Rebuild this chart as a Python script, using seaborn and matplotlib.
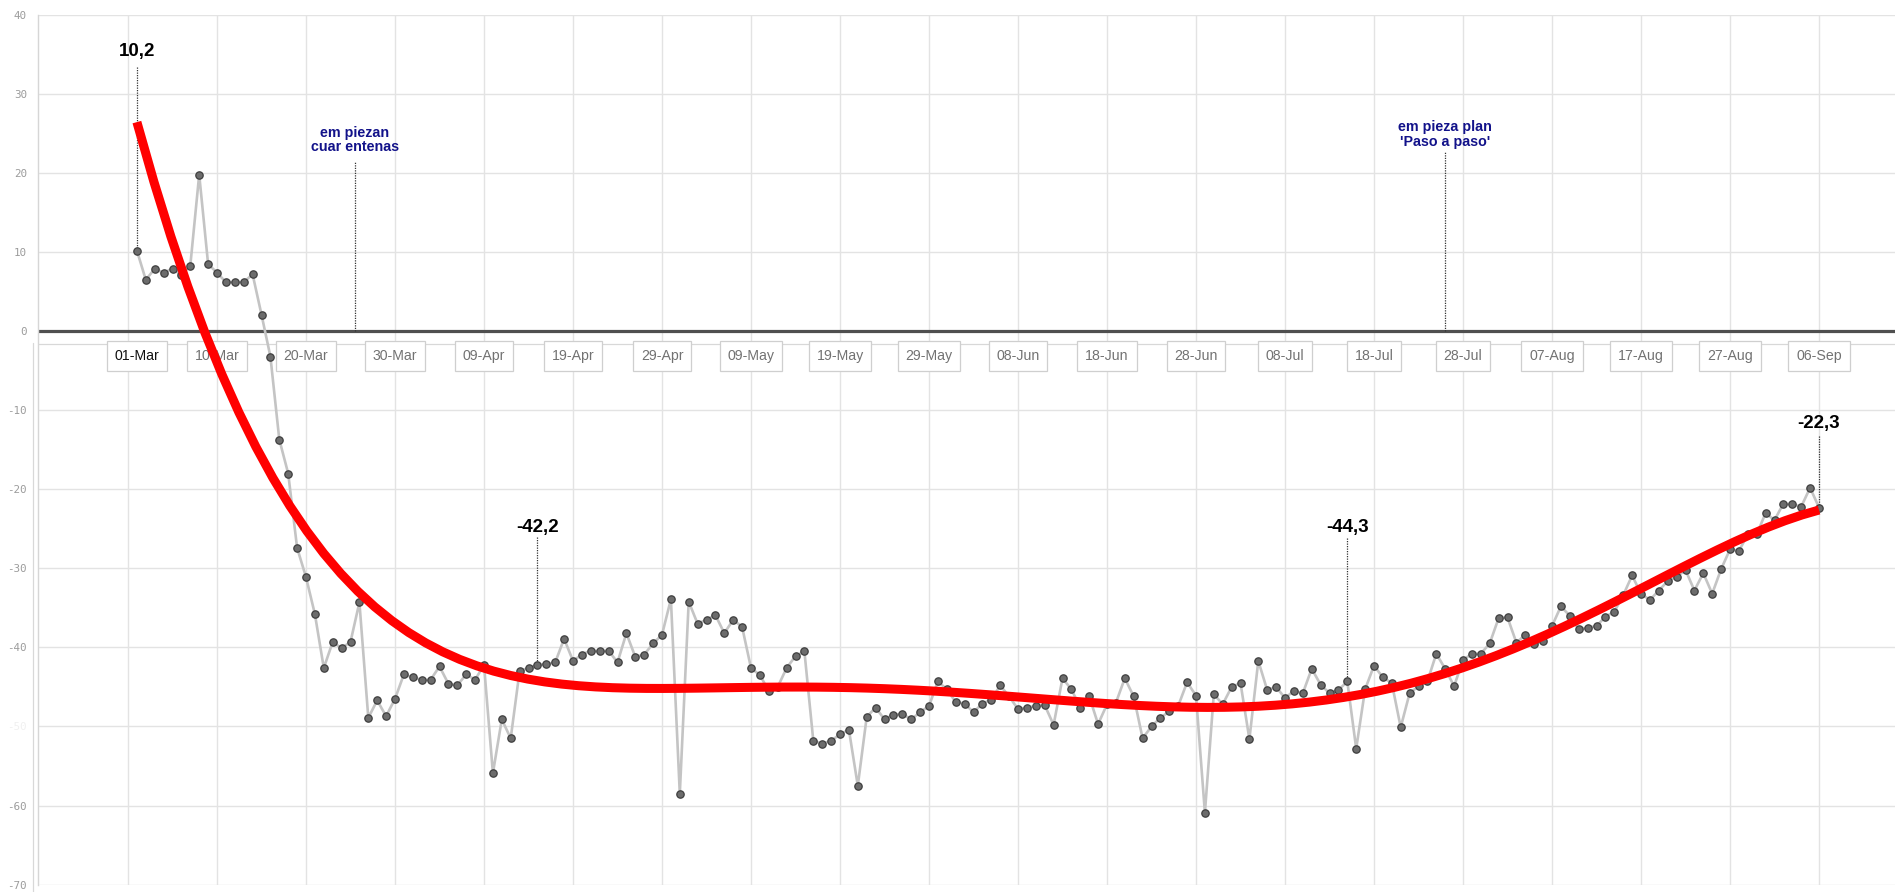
import numpy as np
import pandas as pd
import matplotlib
matplotlib.use("Agg")
import matplotlib.pyplot as plt
from matplotlib import font_manager
from matplotlib.lines import Line2D
import seaborn as sns

# Variación diaria (%) respecto a la línea base, desde el 01-Mar
valores = [
    10.2, 6.5, 7.9, 7.4, 7.9, 7.1, 8.3, 19.8, 8.5, 7.4,
    6.2, 6.2, 6.2, 7.2, 2.1, -3.2, -13.7, -18.0, -27.4, -31.1,
    -35.8, -42.6, -39.3, -40.1, -39.3, -34.3, -48.9, -46.7, -48.7, -46.5,
    -43.4, -43.8, -44.1, -44.1, -42.4, -44.6, -44.8, -43.4, -44.1, -42.2,
    -55.9, -49.1, -51.5, -43.0, -42.6, -42.2, -42.1, -41.9, -38.9, -41.7,
    -40.9, -40.4, -40.5, -40.4, -41.9, -38.2, -41.2, -40.9, -39.5, -38.4,
    -33.9, -58.5, -34.2, -37.0, -36.5, -35.9, -38.2, -36.5, -37.4, -42.6,
    -43.5, -45.5, -45.0, -42.6, -41.1, -40.5, -51.8, -52.2, -51.8, -51.0,
    -50.4, -57.5, -48.8, -47.6, -49.1, -48.5, -48.4, -49.1, -48.2, -47.4,
    -44.3, -45.3, -46.9, -47.1, -48.2, -47.1, -46.6, -44.8, -46.2, -47.8,
    -47.6, -47.4, -47.3, -49.8, -43.9, -45.3, -47.6, -46.2, -49.7, -47.2,
    -47.0, -43.9, -46.2, -51.5, -50.0, -48.9, -48.1, -47.4, -44.4, -46.1,
    -60.9, -45.9, -47.2, -45.0, -44.5, -51.6, -41.7, -45.4, -45.0, -46.4,
    -45.5, -45.8, -42.7, -44.7, -45.8, -45.4, -44.3, -52.8, -45.3, -42.3,
    -43.8, -44.5, -50.1, -45.8, -44.9, -44.3, -40.8, -42.7, -44.9, -41.6,
    -40.8, -40.8, -39.5, -36.3, -36.2, -39.4, -38.4, -39.6, -39.2, -37.3,
    -34.8, -36.0, -37.7, -37.5, -37.3, -36.1, -35.5, -33.4, -30.9, -33.2,
    -34.0, -32.8, -31.6, -31.1, -30.2, -32.8, -30.6, -33.2, -30.1, -27.6,
    -27.8, -25.7, -25.7, -23.0, -23.9, -21.8, -21.9, -22.2, -19.8, -22.3,
]
inicio = "2020-03-01"

# Rótulos del eje de fechas
etiquetas_x = ["01-Mar", "10-Mar", "20-Mar", "30-Mar", "09-Apr", "19-Apr",
               "29-Apr", "09-May", "19-May", "29-May", "08-Jun", "18-Jun",
               "28-Jun", "08-Jul", "18-Jul", "28-Jul", "07-Aug", "17-Aug",
               "27-Aug", "06-Sep"]
marcas_y = [-70, -60, -50, -40, -30, -20, -10, 0, 10, 20, 30, 40]

# Puntos con su valor rotulado
destacados = ["01-Mar", "15-Apr", "15-Jul", "06-Sep"]
# Hitos
eventos = [("2020-03-25 12:00", "em piezan\ncuar entenas"),
           ("2020-07-26 00:00", "em pieza plan\n'Paso a paso'")]

fechas = pd.date_range(inicio, periods=len(valores), freq="D")
dia = (fechas - fechas[0]).days.to_numpy()
df = pd.DataFrame({"dia": dia, "valor": valores})
nombres = fechas.strftime("%d-%b")

sns.set_theme(style="white")
plt.rcParams["font.family"] = ["Liberation Sans", "DejaVu Sans"]
fuente = dict(family=["Liberation Sans", "DejaVu Sans"])

W, H = 1895, 892
fig = plt.figure(figsize=(W / 100, H / 100), dpi=100)
fig.patch.set_facecolor("white")
x0, y_top, y_bot = 38, 15, 884.6
ax = fig.add_axes([x0 / W, 1 - y_bot / H, 1 - x0 / W, (y_bot - y_top) / H])

# escala horizontal: 8.9 px por día, 29-Feb en x=128
ppd = 8.9
ax.set_xlim(-1 - (128 - x0) / ppd, -1 + (W - 128) / ppd)
ax.set_ylim(-70, 40)

# cuadrícula
ax.set_xticks(np.arange(-1, dia.max() + 1, 10))
ax.set_xticklabels([])
ax.set_yticks(marcas_y)
ax.set_yticklabels([str(v) for v in marcas_y])
ax.grid(True, color="#e3e3e3", lw=1.0)
ax.set_axisbelow(True)
ax.tick_params(axis="x", length=0)
ax.tick_params(axis="y", length=0, pad=8, labelsize=7.8, labelcolor="#9b9b9b")
for t in ax.get_yticklabels():
    t.set_family("DejaVu Sans Mono")
    if t.get_text() == "-50":
        t.set_color("#f0f0f0")
for s in ["top", "right", "bottom"]:
    ax.spines[s].set_visible(False)
ax.spines["left"].set_color("#d6d6d6")
ax.spines["left"].set_linewidth(1.0)

ax.axhline(-1.6, color="#d8d8d8", lw=0.9, zorder=1)
ax.axhline(0, color="#4f4f4f", lw=2.3, zorder=2.5)
fig.add_artist(Line2D([33 / W, 33 / W], [0, 1 - 343 / H], color="#d8d8d8", lw=0.9))

# serie diaria
sns.lineplot(data=df, x="dia", y="valor", ax=ax, color="#c4c4c4", lw=1.9,
             marker="o", markersize=5.3, markerfacecolor="#6c6c6c",
             markeredgecolor="#3e3e3e", markeredgewidth=0.9, zorder=3)

# tendencia polinómica
sns.regplot(data=df, x="dia", y="valor", ax=ax, order=6, ci=None,
            scatter=False, truncate=True,
            line_kws=dict(color="#ff0000", lw=6.5, zorder=6,
                          solid_capstyle="butt"))
ax.set_xlabel("")
ax.set_ylabel("")

# rótulos de fecha en recuadros
for lab in etiquetas_x:
    xp = dia[nombres == lab][0]
    ax.text(xp, -3.1, lab, ha="center", va="center", fontsize=10.2,
            color="#111111" if lab == etiquetas_x[0] else "#727272",
            bbox=dict(boxstyle="square,pad=0.55", fc="white", ec="#cfcfcf",
                      lw=0.9), zorder=5, **fuente)

# valores destacados
desp = {0: (35.4, 33.4), 1: (-24.8, -26.0), 2: (-24.8, -26.2), 3: (-11.7, -13.2)}
for k, lab in enumerate(destacados):
    i = int(np.where(nombres == lab)[0][0])
    v = valores[i]
    ty, ly = desp[k]
    ax.plot([dia[i], dia[i]], [ly, v], ls=(0, (1, 1)), color="#333333",
            lw=0.9, zorder=2.8)
    ax.text(dia[i], ty, f"{v:.1f}".replace(".", ","), ha="center",
            va="center", fontsize=13.5, fontweight="bold", color="#000000",
            zorder=7, **fuente)

# hitos
for (f, txt), (ty, ly) in zip(eventos, [(24.2, 21.5), (24.9, 22.7)]):
    xe = (pd.Timestamp(f) - fechas[0]).total_seconds() / 86400
    ax.plot([xe, xe], [0, ly], ls=(0, (1, 1)), color="#333333", lw=0.9,
            zorder=2.8)
    ax.text(xe, ty, txt, ha="center", va="center", fontsize=10.3,
            fontweight="bold", color="#12128a", linespacing=1.05,
            zorder=7, **fuente)

fig.savefig("out.png", dpi=100, facecolor="white")
